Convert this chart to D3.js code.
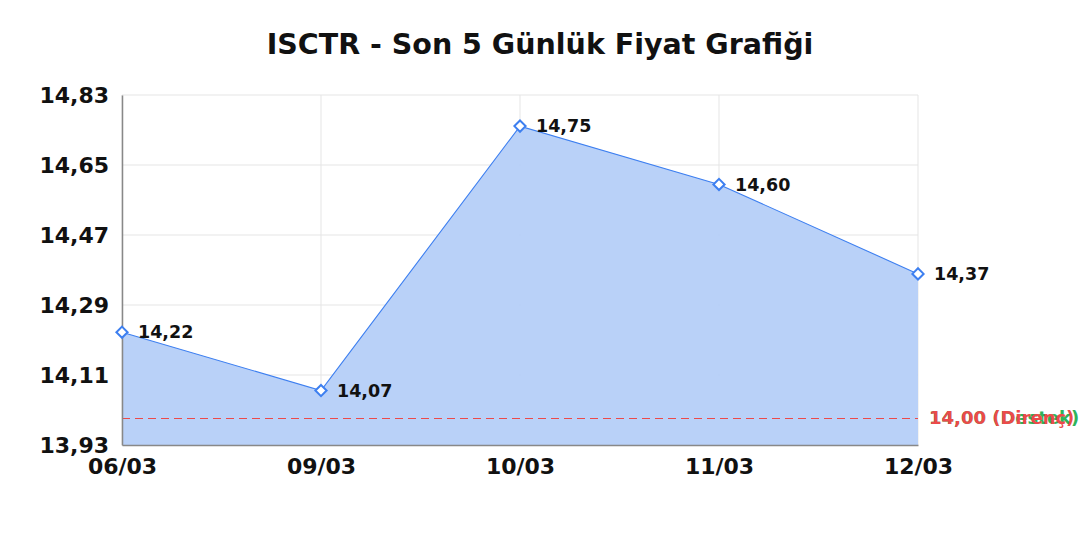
<!DOCTYPE html>
<html>
<head>
<meta charset="utf-8">
<script src="https://cdn.jsdelivr.net/npm/d3@7"></script>
<style>
  body { margin: 0; background: #fff; }
  svg { font-family: "DejaVu Sans", sans-serif; }
</style>
</head>
<body>
<div id="container"></div>
<script>
/* DATA */
const dates = ["06/03", "09/03", "10/03", "11/03", "12/03"];
const prices = [14.22, 14.07, 14.75, 14.60, 14.37];
const yTicks = [13.93, 14.11, 14.29, 14.47, 14.65, 14.83];
const supportLevel = 14.00;
const resistanceLevel = 14.00;

const width = 1080, height = 540;
const margin = { top: 95, right: 162, bottom: 95, left: 122 };

const svg = d3.select("#container")
  .append("svg")
  .attr("width", width)
  .attr("height", height);

const fmt = v => d3.format(".2f")(v).replace(".", ",");

// scales
const x = d3.scalePoint()
  .domain(dates)
  .range([margin.left, width - margin.right]);

const y = d3.scaleLinear()
  .domain([yTicks[0], yTicks[yTicks.length - 1]])
  .range([height - margin.bottom, margin.top]);

// title
svg.append("text")
  .attr("x", 540)
  .attr("y", 54)
  .attr("text-anchor", "middle")
  .attr("font-size", 28.5)
  .attr("font-weight", "bold")
  .attr("fill", "#111")
  .text("ISCTR - Son 5 Günlük Fiyat Grafiği");

// grid
svg.append("g")
  .selectAll("line")
  .data(yTicks)
  .join("line")
  .attr("x1", margin.left)
  .attr("x2", width - margin.right)
  .attr("y1", d => y(d))
  .attr("y2", d => y(d))
  .attr("stroke", "#e5e5e5");

svg.append("g")
  .selectAll("line")
  .data(dates)
  .join("line")
  .attr("x1", d => x(d))
  .attr("x2", d => x(d))
  .attr("y1", margin.top)
  .attr("y2", height - margin.bottom)
  .attr("stroke", "#e5e5e5");

// area + line
const area = d3.area()
  .x((d, i) => x(dates[i]))
  .y0(y(yTicks[0]))
  .y1(d => y(d));

const line = d3.line()
  .x((d, i) => x(dates[i]))
  .y(d => y(d));

svg.append("path")
  .datum(prices)
  .attr("d", area)
  .attr("fill", "#b5cff8")
  .attr("fill-opacity", 0.95);

svg.append("path")
  .datum(prices)
  .attr("d", line)
  .attr("fill", "none")
  .attr("stroke", "#3d7ff0")
  .attr("stroke-width", 1.1);

// support / resistance lines
const levels = [
  { v: supportLevel, label: "(Destek)", color: "#2fb35a" },
  { v: resistanceLevel, label: "(Direnç)", color: "#ec4a4a" }
];

svg.append("g")
  .selectAll("line")
  .data(levels)
  .join("line")
  .attr("x1", margin.left)
  .attr("x2", width - margin.right)
  .attr("y1", d => Math.round(y(d.v)) + 0.5)
  .attr("y2", d => Math.round(y(d.v)) + 0.5)
  .attr("stroke", d => d.color)
  .attr("stroke-width", 1)
  .attr("shape-rendering", "crispEdges")
  .attr("stroke-dasharray", "8,5");

svg.append("g")
  .selectAll("text")
  .data(levels)
  .join("text")
  .attr("x", width - margin.right + 11)
  .attr("y", d => y(d.v))
  .attr("dy", "0.35em")
  .attr("font-size", 18)
  .attr("font-weight", "bold")
  .attr("fill", d => d.color)
  .text(d => fmt(d.v) + " " + d.label);

// axes
const yAxis = svg.append("g")
  .attr("transform", `translate(${margin.left},0)`)
  .call(d3.axisLeft(y).tickValues(yTicks).tickFormat(fmt).tickSize(0).tickPadding(13));
yAxis.select(".domain").attr("stroke", "#888").attr("stroke-width", 1.5);
yAxis.selectAll("text")
  .attr("font-size", 22)
  .attr("font-weight", "bold")
  .attr("fill", "#111")
  .attr("font-family", "DejaVu Sans");

const xAxis = svg.append("g")
  .attr("transform", `translate(0,${height - margin.bottom})`)
  .call(d3.axisBottom(x).tickSize(0).tickPadding(13));
xAxis.select(".domain").attr("stroke", "#888").attr("stroke-width", 1.5);
xAxis.selectAll("text")
  .attr("font-size", 22)
  .attr("font-weight", "bold")
  .attr("fill", "#111")
  .attr("font-family", "DejaVu Sans");

// markers
svg.append("g")
  .selectAll("path")
  .data(prices)
  .join("path")
  .attr("d", d3.symbol(d3.symbolDiamond2, 80))
  .attr("transform", (d, i) => `translate(${x(dates[i])},${y(d)})`)
  .attr("fill", "#fff")
  .attr("stroke", "#3d7ff0")
  .attr("stroke-width", 2);

// value labels
svg.append("g")
  .selectAll("text")
  .data(prices)
  .join("text")
  .attr("x", (d, i) => x(dates[i]) + 16)
  .attr("y", d => y(d))
  .attr("dy", "0.35em")
  .attr("font-size", 17.5)
  .attr("font-weight", "bold")
  .attr("fill", "#111")
  .text(d => fmt(d));
</script>
</body>
</html>
